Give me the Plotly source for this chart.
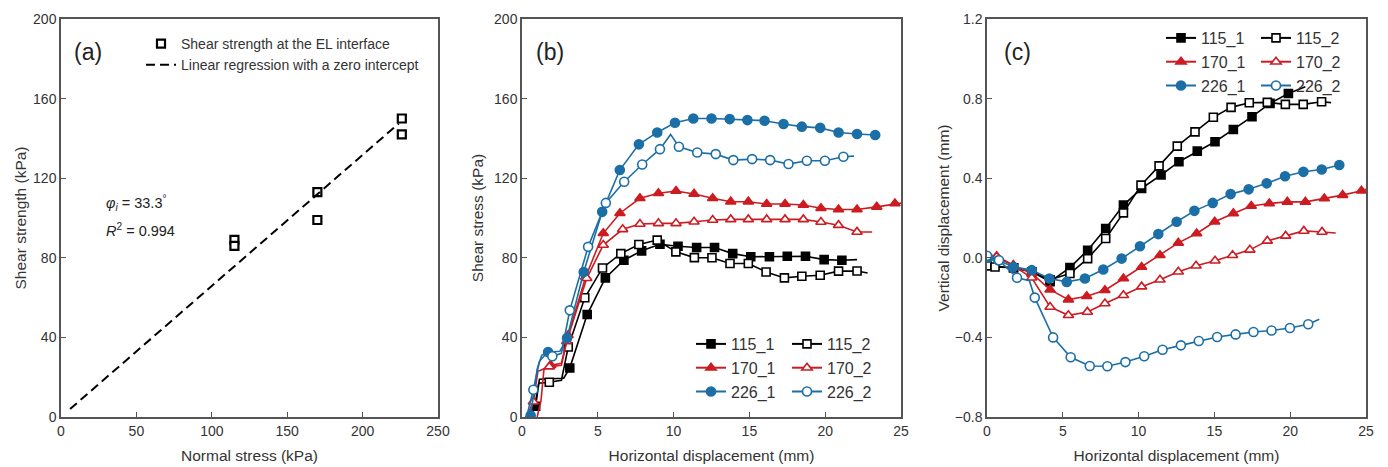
import plotly.graph_objects as go

W, H = 1388, 467
FONT = "Liberation Sans, Arial, sans-serif"
BLACK, RED, BLUE = "#000000", "#cc1c22", "#1b6fa6"
AX = "#555555"
TXT = "#333333"

# ---------------- panel (a) data ----------------
a_normal = [115, 115, 170, 170, 226, 226]
a_strength = [89, 86, 113, 99, 150, 142]
a_fit_x = [6, 224]
a_fit_y = [4, 147.5]

# ---------------- panel (b) data: shear stress vs horizontal displacement ----------------
# marker points (mx/my) and extra line vertices (ex/ey)
b_115_1_mx = [0.9, 3.15, 4.3, 5.5, 6.72, 7.89, 9.1, 10.29, 11.52, 12.7, 13.9, 15.09, 16.32, 17.5, 18.7, 19.93, 21.1]
b_115_1_my = [5.4, 24.6, 51.5, 69.9, 78.8, 83.5, 86.8, 85.8, 85.2, 85.2, 82.1, 80.5, 80.5, 80.8, 80.8, 79.1, 78.8]
b_115_1_ex = [0.5, 1.15, 2.75, 22.1]
b_115_1_ey = [0, 19, 19.5, 79.1]

b_115_2_mx = [1.8, 3.05, 4.14, 5.31, 6.52, 7.71, 8.92, 10.15, 11.37, 12.53, 13.72, 14.93, 16.1, 17.31, 18.46, 19.67, 20.88, 22.1]
b_115_2_my = [17.5, 35.2, 59.9, 74.9, 82.1, 86.7, 88.9, 83.0, 80.1, 80.0, 77.1, 77.1, 72.9, 69.9, 70.7, 71.2, 73.3, 73.4]
b_115_2_ex = [0.4, 0.9, 1.1, 2.6, 22.8]
b_115_2_ey = [0, 8, 17, 18.5, 72.4]

b_170_1_mx = [1.9, 3.04, 4.2, 5.36, 6.46, 7.78, 9.0, 10.16, 11.35, 12.58, 13.77, 14.93, 16.14, 17.35, 18.56, 19.72, 20.88, 22.1, 23.4, 24.6]
b_170_1_my = [26, 41.1, 70.4, 92.3, 102.4, 109.9, 112.4, 113.6, 112.1, 109.9, 108.2, 108.2, 107, 107, 106.5, 104.9, 104.3, 104.3, 105.6, 107.3]
b_170_1_ex = [1.0, 1.25, 1.45, 2.6, 25.0]
b_170_1_ey = [0, 8, 24, 27, 107.5]

b_170_2_mx = [0.75, 1.8, 2.95, 4.27, 5.36, 6.64, 7.78, 9.0, 10.16, 11.35, 12.58, 13.77, 14.93, 16.14, 17.35, 18.56, 19.72, 20.88, 22.1]
b_170_2_my = [7.7, 25.3, 38, 69.7, 86.4, 94.3, 97, 97.3, 97.3, 98.1, 99, 99.3, 99.3, 99.3, 99.3, 99.3, 98, 96.4, 93]
b_170_2_ex = [0.3, 1.05, 2.6, 23.1]
b_170_2_ey = [0, 23, 26, 93]

b_226_1_mx = [0.57, 1.72, 2.97, 4.07, 5.29, 6.45, 7.71, 8.92, 10.09, 11.3, 12.5, 13.7, 14.87, 16.0, 17.25, 18.46, 19.67, 20.88, 22.1, 23.3]
b_226_1_my = [0.8, 32.7, 39.7, 72.9, 103.1, 124.1, 137.0, 143.0, 147.9, 150.0, 150.0, 149.7, 149.2, 148.9, 147.2, 145.9, 145.3, 143.0, 142.2, 141.7]
b_226_1_ex = [0.2, 1.0, 1.3, 2.5]
b_226_1_ey = [0, 24, 31, 33]

b_226_2_mx = [0.75, 2.0, 3.15, 4.36, 5.53, 6.74, 7.93, 9.1, 10.35, 11.56, 12.78, 13.94, 15.18, 16.37, 17.58, 18.79, 19.98, 21.2]
b_226_2_my = [13.7, 30.5, 53.6, 85.5, 107.6, 118.2, 126.9, 134.6, 135.8, 132.9, 132.1, 129.1, 129.6, 129.1, 127.1, 128.8, 128.8, 130.8]
b_226_2_ex = [0.3, 1.15, 1.5, 2.6, 9.8, 21.9]
b_226_2_ey = [0, 28, 31, 32, 142, 131.1]

# ---------------- panel (c) data: vertical vs horizontal displacement ----------------
c_115_1_mx = [0.0, 1.75, 2.95, 4.16, 5.47, 6.64, 7.83, 9.0, 10.2, 11.48, 12.66, 13.87, 15.04, 16.25, 17.48, 18.67, 19.88]
c_115_1_my = [-0.04, -0.05, -0.07, -0.12, -0.049, 0.038, 0.147, 0.265, 0.349, 0.416, 0.483, 0.536, 0.583, 0.645, 0.709, 0.776, 0.826]
c_115_1_ex = [21.0]
c_115_1_ey = [0.86]

c_115_2_mx = [0.0, 0.53, 1.75, 2.95, 4.16, 5.47, 6.64, 7.83, 9.0, 10.16, 11.35, 12.55, 13.72, 14.93, 16.1, 17.3, 18.49, 19.68, 20.86, 22.07]
c_115_2_my = [-0.04, -0.046, -0.05, -0.07, -0.11, -0.079, -0.004, 0.097, 0.226, 0.365, 0.462, 0.561, 0.633, 0.706, 0.756, 0.779, 0.781, 0.771, 0.771, 0.784]
c_115_2_ex = [22.7]
c_115_2_ey = [0.78]

c_170_1_mx = [0.64, 1.74, 2.95, 4.16, 5.37, 6.58, 7.78, 9.0, 10.2, 11.41, 12.62, 13.83, 15.02, 16.25, 17.43, 18.62, 19.81, 21.0, 22.25, 23.46, 24.7]
c_170_1_my = [0.008, -0.037, -0.079, -0.16, -0.21, -0.193, -0.163, -0.104, -0.046, 0.013, 0.075, 0.122, 0.181, 0.223, 0.26, 0.273, 0.281, 0.281, 0.298, 0.315, 0.337]
c_170_1_ex = [0.2, 25.0]
c_170_1_ey = [-0.005, 0.345]

c_170_2_mx = [0.64, 1.74, 2.95, 4.16, 5.37, 6.62, 7.78, 9.0, 10.2, 11.41, 12.62, 13.79, 15.04, 16.2, 17.34, 18.49, 19.7, 20.9, 22.1]
c_170_2_my = [0.005, -0.04, -0.1, -0.247, -0.289, -0.272, -0.23, -0.188, -0.145, -0.11, -0.07, -0.04, -0.015, 0.013, 0.04, 0.085, 0.11, 0.135, 0.13]
c_170_2_ex = [23.0]
c_170_2_ey = [0.125]

c_226_1_mx = [0.09, 0.75, 1.74, 2.95, 4.11, 5.26, 6.46, 7.67, 8.88, 10.09, 11.3, 12.51, 13.68, 14.89, 16.07, 17.26, 18.45, 19.66, 20.87, 22.08, 23.24]
c_226_1_my = [0.0, -0.012, -0.046, -0.062, -0.104, -0.121, -0.104, -0.059, -0.004, 0.058, 0.119, 0.181, 0.236, 0.276, 0.32, 0.344, 0.374, 0.41, 0.432, 0.444, 0.466]
c_226_1_ex = []
c_226_1_ey = []

c_226_2_mx = [0.0, 0.79, 1.98, 3.15, 4.36, 5.52, 6.78, 7.94, 9.13, 10.37, 11.58, 12.79, 13.97, 15.18, 16.4, 17.58, 18.77, 19.98, 21.19]
c_226_2_my = [0.01, -0.012, -0.1, -0.2, -0.40, -0.5, -0.544, -0.545, -0.524, -0.495, -0.462, -0.44, -0.418, -0.398, -0.385, -0.373, -0.365, -0.353, -0.334]
c_226_2_ex = [2.8, 21.92]
c_226_2_ey = [-0.115, -0.309]

series_names = ["115_1", "115_2", "170_1", "170_2", "226_1", "226_2"]
series_colors = [BLACK, BLACK, RED, RED, BLUE, BLUE]
series_symbols = ["square", "square", "triangle-up", "triangle-up", "circle", "circle"]
series_filled = [True, False, True, False, True, False]
series_msize = [8, 8, 9, 9, 9, 9]

b_data = [
    (b_115_1_mx, b_115_1_my, b_115_1_ex, b_115_1_ey),
    (b_115_2_mx, b_115_2_my, b_115_2_ex, b_115_2_ey),
    (b_170_1_mx, b_170_1_my, b_170_1_ex, b_170_1_ey),
    (b_170_2_mx, b_170_2_my, b_170_2_ex, b_170_2_ey),
    (b_226_1_mx, b_226_1_my, b_226_1_ex, b_226_1_ey),
    (b_226_2_mx, b_226_2_my, b_226_2_ex, b_226_2_ey),
]
c_data = [
    (c_115_1_mx, c_115_1_my, c_115_1_ex, c_115_1_ey),
    (c_115_2_mx, c_115_2_my, c_115_2_ex, c_115_2_ey),
    (c_170_1_mx, c_170_1_my, c_170_1_ex, c_170_1_ey),
    (c_170_2_mx, c_170_2_my, c_170_2_ex, c_170_2_ey),
    (c_226_1_mx, c_226_1_my, c_226_1_ex, c_226_1_ey),
    (c_226_2_mx, c_226_2_my, c_226_2_ex, c_226_2_ey),
]


def path(mx, my, ex, ey):
    pts = sorted(zip(list(mx) + list(ex), list(my) + list(ey)))
    return [p[0] for p in pts], [p[1] for p in pts]


fig = go.Figure()

# ---- panel (a)
fig.add_trace(go.Scatter(
    x=a_normal, y=a_strength, mode="markers", name="Shear strength at the EL interface",
    marker=dict(symbol="square", size=8, color="white", line=dict(color=BLACK, width=2.2)),
    xaxis="x", yaxis="y", legend="legend"))
fig.add_trace(go.Scatter(
    x=a_fit_x, y=a_fit_y, mode="lines", name="Linear regression with a zero intercept",
    line=dict(color=BLACK, width=2, dash="9px,5px"),
    xaxis="x", yaxis="y", legend="legend"))

# ---- panels (b) and (c)
for data, xa, ya, legs in [(b_data, "x2", "y2", ("legend2", "legend3")),
                           (c_data, "x3", "y3", ("legend4", "legend5"))]:
    for i, (mx, my, ex, ey) in enumerate(data):
        col = series_colors[i]
        fill = col if series_filled[i] else "white"
        px_, py_ = path(mx, my, ex, ey)
        fig.add_trace(go.Scatter(x=px_, y=py_, mode="lines", line=dict(color=col, width=1.6),
                                 showlegend=False, hoverinfo="skip", xaxis=xa, yaxis=ya))
        mk = dict(symbol=series_symbols[i], size=series_msize[i], color=fill,
                  line=dict(color=col, width=1.6))
        fig.add_trace(go.Scatter(x=mx, y=my, mode="markers", marker=mk,
                                 showlegend=False, name=series_names[i], xaxis=xa, yaxis=ya))
        fig.add_trace(go.Scatter(x=[None], y=[None], mode="lines+markers", name=series_names[i],
                                 line=dict(color=col, width=2), marker=mk,
                                 legend=legs[i % 2], xaxis=xa, yaxis=ya))

ydom = [1 - 417 / H, 1 - 19 / H]
axis_common = dict(showline=True, linecolor=AX, linewidth=1.5, mirror=True,
                   ticks="inside", ticklen=5, tickcolor=AX, tickwidth=1.2,
                   showgrid=False, zeroline=False,
                   tickfont=dict(family=FONT, size=14, color=TXT),
                   title_font=dict(family=FONT, size=15.5, color=TXT), automargin=False)

fig.update_layout(
    width=W, height=H, margin=dict(l=0, r=0, t=0, b=0),
    paper_bgcolor="white", plot_bgcolor="white",
    font=dict(family=FONT, color=TXT),
    xaxis=dict(domain=[61 / W, 438 / W], range=[0, 250], tickvals=[0, 50, 100, 150, 200, 250],
               title=dict(text="Normal stress (kPa)", standoff=13), anchor="y", **axis_common),
    yaxis=dict(domain=ydom, range=[0, 200], tickvals=[0, 40, 80, 120, 160, 200],
               title=dict(text="Shear strength (kPa)", standoff=3), anchor="x", **axis_common),
    xaxis2=dict(domain=[522 / W, 901 / W], range=[0, 25], tickvals=[0, 5, 10, 15, 20, 25],
                title=dict(text="Horizontal displacement (mm)", standoff=13), anchor="y2", **axis_common),
    yaxis2=dict(domain=ydom, range=[0, 200], tickvals=[0, 40, 80, 120, 160, 200],
                title=dict(text="Shear stress (kPa)", standoff=7), anchor="x2", **axis_common),
    xaxis3=dict(domain=[987 / W, 1366 / W], range=[0, 25], tickvals=[0, 5, 10, 15, 20, 25],
                title=dict(text="Horizontal displacement (mm)", standoff=13), anchor="y3", **axis_common),
    yaxis3=dict(domain=ydom, range=[-0.8, 1.2], tickvals=[-0.8, -0.4, 0.0, 0.4, 0.8, 1.2],
                tickformat=".1f",
                title=dict(text="Vertical displacement (mm)", standoff=1), anchor="x3", **axis_common),
    legend=dict(x=141 / W, y=1 - 28 / H, xanchor="left", yanchor="top",
                bgcolor="rgba(0,0,0,0)", font=dict(family=FONT, size=14, color=TXT)),
    legend2=dict(x=691 / W, y=1 - 327 / H, xanchor="left", yanchor="top",
                 bgcolor="rgba(0,0,0,0)", font=dict(family=FONT, size=16, color=TXT)),
    legend3=dict(x=787 / W, y=1 - 327 / H, xanchor="left", yanchor="top",
                 bgcolor="rgba(0,0,0,0)", font=dict(family=FONT, size=16, color=TXT)),
    legend4=dict(x=1161 / W, y=1 - 21 / H, xanchor="left", yanchor="top",
                 bgcolor="rgba(0,0,0,0)", font=dict(family=FONT, size=16, color=TXT)),
    legend5=dict(x=1256 / W, y=1 - 21 / H, xanchor="left", yanchor="top",
                 bgcolor="rgba(0,0,0,0)", font=dict(family=FONT, size=16, color=TXT)),
)

annos = [
    dict(text="(a)", x=88 / W, y=1 - 52 / H, size=23),
    dict(text="(b)", x=550 / W, y=1 - 52 / H, size=23),
    dict(text="(c)", x=1017 / W, y=1 - 52 / H, size=23),
]
for a in annos:
    fig.add_annotation(text=a["text"], x=a["x"], y=a["y"], xref="paper", yref="paper",
                       showarrow=False, xanchor="center", yanchor="middle",
                       font=dict(family=FONT, size=a["size"], color="#222222"))

fig.add_annotation(text="<i>φ<sub>i</sub></i> = 33.3<sup>°</sup>", x=104 / W, y=1 - 203 / H,
                   xref="paper", yref="paper", showarrow=False, xanchor="left", yanchor="middle",
                   font=dict(family=FONT, size=14.5, color="#222222"))
fig.add_annotation(text="<i>R</i><sup>2</sup> = 0.994", x=104 / W, y=1 - 230 / H,
                   xref="paper", yref="paper", showarrow=False, xanchor="left", yanchor="middle",
                   font=dict(family=FONT, size=14.5, color="#222222"))

fig.write_html("out.html", config={"displayModeBar": False},
               post_script="document.body.style.margin='0';")
